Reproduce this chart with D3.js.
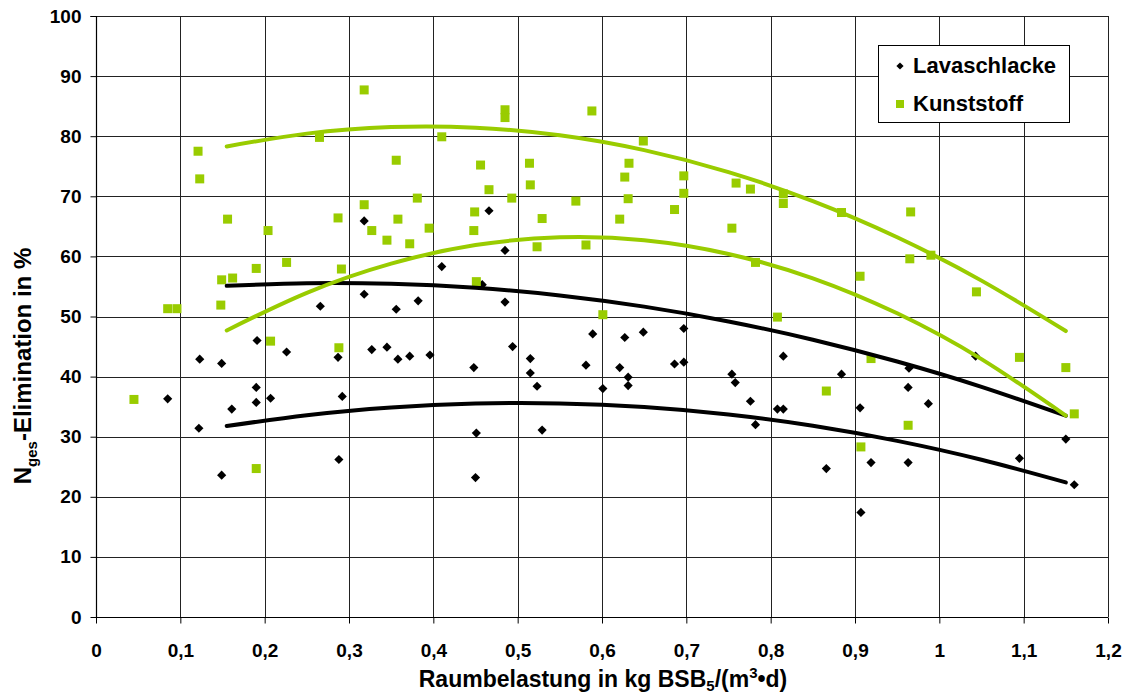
<!DOCTYPE html>
<html>
<head>
<meta charset="utf-8">
<script src="https://cdn.jsdelivr.net/npm/d3@7"></script>
<style>
  html, body { margin: 0; padding: 0; background: #fff; }
  svg { display: block; font-family: Arial, "Liberation Sans", sans-serif; }
</style>
</head>
<body>
<svg id="chart" width="1128" height="697"></svg>
<script>
// ---- data ----
const seriesNames = ["Lavaschlacke", "Kunststoff"];

const lavaX = [0.085,0.122,0.123,0.149,0.149,0.161,0.190,0.190,0.191,0.207,0.226,0.266,0.287,0.288,0.292,0.318,0.318,0.327,0.345,0.356,0.358,0.372,0.382,0.396,0.410,0.448,0.451,0.450,0.458,0.466,0.485,0.485,0.494,0.515,0.515,0.523,0.529,0.581,0.589,0.601,0.621,0.627,0.631,0.631,0.649,0.686,0.697,0.697,0.754,0.758,0.776,0.782,0.808,0.815,0.815,0.866,0.884,0.906,0.907,0.919,0.963,0.963,0.964,0.987,1.043,1.095,1.150,1.160];
const lavaY = [36.3,31.4,42.9,42.2,23.6,34.6,38.2,35.7,46.0,36.4,44.1,51.7,43.2,26.2,36.7,65.9,53.7,44.5,44.9,51.2,42.9,43.4,52.6,43.6,58.3,41.5,30.6,23.2,55.3,67.6,61.0,52.4,45.0,43.0,40.6,38.4,31.1,41.9,47.1,38.0,41.5,46.5,39.9,38.5,47.4,42.1,42.4,48.0,40.4,39.0,35.9,32.0,34.6,34.6,43.4,24.7,40.4,34.8,17.4,25.7,38.2,25.7,41.4,35.5,43.4,26.4,29.6,22.0];

const kunstX = [0.045,0.085,0.096,0.121,0.123,0.148,0.149,0.156,0.162,0.190,0.190,0.204,0.207,0.226,0.265,0.287,0.288,0.291,0.318,0.318,0.327,0.345,0.356,0.358,0.372,0.381,0.395,0.410,0.448,0.449,0.451,0.456,0.466,0.485,0.485,0.493,0.514,0.515,0.523,0.529,0.569,0.581,0.588,0.601,0.621,0.627,0.631,0.632,0.649,0.686,0.697,0.697,0.754,0.759,0.776,0.782,0.808,0.815,0.815,0.866,0.884,0.906,0.907,0.919,0.963,0.965,0.966,0.990,1.044,1.095,1.150,1.160];
const kunstY = [36.2,51.3,51.3,77.5,72.9,51.9,56.1,66.2,56.4,58.0,24.7,64.3,45.9,59.0,79.8,66.4,44.8,57.9,87.7,68.6,64.3,62.7,76.0,66.2,62.1,69.7,64.7,79.9,64.3,67.4,55.8,75.2,71.1,84.4,83.1,69.7,75.5,71.9,61.6,66.3,69.2,61.9,84.2,50.3,66.2,73.2,69.6,75.5,79.2,67.8,73.4,70.5,64.7,72.2,71.2,59.0,49.9,70.4,68.8,37.6,67.3,56.7,28.3,43.0,31.9,59.6,67.4,60.2,54.1,43.2,41.5,33.8];

// trend curves, values
const curveX = [0.155,0.25,0.35,0.45,0.55,0.65,0.75,0.85,0.95,1.05,1.15];
const lavaUpper = [55.1,55.55,55.45,54.77,53.5,51.64,49.18,46.14,42.51,38.3,33.49];
const lavaLower = [31.77,33.58,34.87,35.52,35.54,34.93,33.69,31.82,29.31,26.17,22.4];
const kunstUpper = [78.3,80.43,81.52,81.42,80.15,77.68,74.03,69.19,63.18,55.97,47.58];
const kunstLower = [47.68,53.94,58.8,61.88,63.17,62.69,60.41,56.36,50.53,42.91,33.52];

const xTicks = [0,0.1,0.2,0.3,0.4,0.5,0.6,0.7,0.8,0.9,1.0,1.1,1.2];
const yTicks = [0,10,20,30,40,50,60,70,80,90,100];

// ---- drawing ----
const svg = d3.select("#chart");
const x = d3.scaleLinear().domain([0, 1.2]).range([96, 1108]);
const y = d3.scaleLinear().domain([0, 100]).range([617, 16]);
const GREEN = "#99CC00";
const fmt = v => (v === 0 ? "0" : (Number.isInteger(v) ? String(v) : String(v).replace(".", ",")));
const px = v => Math.round(v) + 0.5;

// gridlines
const grid = svg.append("g");
grid.selectAll(".hg").data(yTicks.filter(d => d > 0)).join("line")
  .attr("x1", 96).attr("x2", 1108)
  .attr("y1", d => px(y(d))).attr("y2", d => px(y(d)))
  .attr("stroke", "#222").attr("stroke-width", 1);
grid.selectAll(".vg").data(xTicks.filter(d => d > 0)).join("line")
  .attr("y1", 16).attr("y2", 617)
  .attr("x1", d => px(x(d))).attr("x2", d => px(x(d)))
  .attr("stroke", "#222").attr("stroke-width", 1);

// axes
const yAxis = d3.axisLeft(y).tickValues(yTicks).tickSize(6).tickPadding(9).tickFormat(fmt);
const gy = svg.append("g").attr("transform", "translate(96.5,0)").call(yAxis);
const xAxis = d3.axisBottom(x).tickValues(xTicks).tickSize(6).tickPadding(20).tickFormat(fmt);
const gx = svg.append("g").attr("transform", `translate(0,${px(y(0))})`).call(xAxis);
[gx, gy].forEach(g => {
  g.select(".domain").attr("stroke", "#000").attr("stroke-width", 1.2);
  g.selectAll(".tick line").attr("stroke", "#000");
  g.selectAll(".tick text").attr("fill", "#000").style("font-size", "19px").style("font-weight", "bold")
    .style("font-family", "Arial, 'Liberation Sans', sans-serif");
});
gy.select(".domain").attr("d", `M-6,${px(y(100))}H0V${px(y(0))}`);
gx.select(".domain").attr("d", `M${x(0)},0H${x(1.2)}`);

// markers
const lava = lavaX.map((v, i) => ({x: v, y: lavaY[i]}));
const kunst = kunstX.map((v, i) => ({x: v, y: kunstY[i]}));
svg.append("g").selectAll("path").data(lava).join("path")
  .attr("transform", d => `translate(${x(d.x)},${y(d.y)}) rotate(45)`)
  .attr("d", d3.symbol().type(d3.symbolSquare).size(42)())
  .attr("fill", "#000");
svg.append("g").selectAll("rect").data(kunst).join("rect")
  .attr("x", d => x(d.x) - 4.5).attr("y", d => y(d.y) - 4.5)
  .attr("width", 9).attr("height", 9)
  .attr("fill", GREEN);

// trend curves
const line = d3.line().x(d => x(d.x)).y(d => y(d.y)).curve(d3.curveNatural);
const mk = arr => curveX.map((v, i) => ({x: v, y: arr[i]}));
[[lavaUpper, "#000"], [lavaLower, "#000"], [kunstUpper, GREEN], [kunstLower, GREEN]].forEach(([arr, c]) => {
  svg.append("path").datum(mk(arr)).attr("d", line)
    .attr("fill", "none").attr("stroke", c).attr("stroke-width", 4).attr("stroke-linecap", "round");
});

// legend
const lg = svg.append("g");
lg.append("rect").attr("x", 878.5).attr("y", 45.5).attr("width", 191).attr("height", 77)
  .attr("fill", "#fff").attr("stroke", "#000").attr("stroke-width", 1);
lg.append("path").attr("transform", "translate(900,66) rotate(45)")
  .attr("d", d3.symbol().type(d3.symbolSquare).size(26)()).attr("fill", "#000");
lg.append("rect").attr("x", 896).attr("y", 100).attr("width", 8).attr("height", 8).attr("fill", GREEN);
lg.append("text").attr("x", 913).attr("y", 73).text(seriesNames[0])
  .style("font-size", "22px").style("font-weight", "bold");
lg.append("text").attr("x", 913).attr("y", 111).text(seriesNames[1])
  .style("font-size", "22px").style("font-weight", "bold");

// axis titles
const xt = svg.append("text").attr("x", 603).attr("y", 687).attr("text-anchor", "middle")
  .style("font-size", "23px").style("font-weight", "bold");
xt.append("tspan").text("Raumbelastung in kg BSB");
xt.append("tspan").text("5").attr("dy", 4).style("font-size", "15px");
xt.append("tspan").text("/(m").attr("dy", -4);
xt.append("tspan").text("3").attr("dy", -9).style("font-size", "15px");
xt.append("tspan").text("•d)").attr("dy", 9);

const yt = svg.append("text").attr("transform", "translate(31,366) rotate(-90)").attr("text-anchor", "middle")
  .style("font-size", "24px").style("font-weight", "bold");
yt.append("tspan").text("N");
yt.append("tspan").text("ges").attr("dy", 6).style("font-size", "15px");
yt.append("tspan").text("-Elimination in %").attr("dy", -6);
</script>
</body>
</html>
